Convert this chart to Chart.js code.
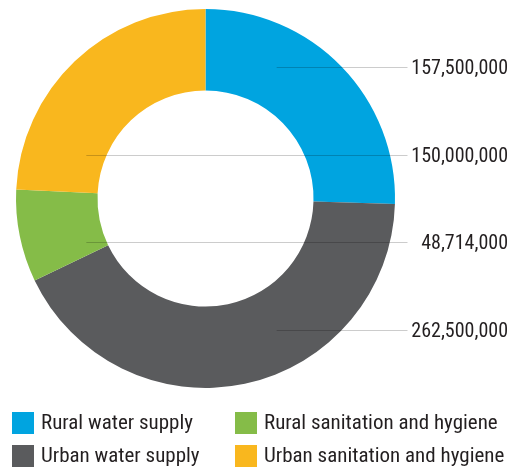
<!DOCTYPE html>
<html>
<head>
<meta charset="utf-8">
<script src="https://cdn.jsdelivr.net/npm/chart.js@4/dist/chart.umd.min.js"></script>
<style>
  html, body { margin: 0; padding: 0; background: #fff; }
  canvas { display: block; }
</style>
</head>
<body>
<canvas id="donut" width="511" height="470"></canvas>
<script>
const categories = [
  "Rural water supply",
  "Urban water supply",
  "Rural sanitation and hygiene",
  "Urban sanitation and hygiene"
];
const amounts = [157500000, 262500000, 48714000, 150000000];
const colors = ["#00a4e0", "#5a5b5d", "#85bc48", "#f9b71e"];
// order of the value labels on the right, top to bottom
const labelOrder = [0, 3, 2, 1];
// legend is laid out column by column, two rows
const legendRows = 2;

const FONT = '"Liberation Sans Narrow", "Arial Narrow", "Roboto Condensed", sans-serif';
const TEXT = "#231f20";

function fmt(n) {
  return n.toLocaleString("en-US");
}

const leaderLabels = {
  id: "leaderLabels",
  afterDatasetsDraw(chart) {
    const ctx = chart.ctx;
    const arcs = chart.getDatasetMeta(0).data;
    const first = arcs[0];
    const cx = first.x, cy = first.y;
    const outer = first.outerRadius, inner = first.innerRadius;
    const step = outer * 0.463;
    const lineEnd = chart.chartArea.right + 12.5;
    const textRight = chart.width - 3;

    ctx.save();
    labelOrder.forEach((idx, i) => {
      const arc = arcs[idx];
      const y = cy + (i - (labelOrder.length - 1) / 2) * step;
      const dy = y - cy;
      const rMid = (inner + outer) / 2;
      const dxMid = Math.sqrt(Math.max(rMid * rMid - dy * dy, 0));
      // pick the side where this y-level crosses the slice
      let ang = Math.atan2(dy, dxMid);
      const s = arc.startAngle, e = arc.endAngle;
      const norm = a => { while (a < s) a += Math.PI * 2; return a; };
      const side = norm(ang) <= e ? 1 : -1;
      const dxOuter = Math.sqrt(Math.max(outer * outer - dy * dy, 0));
      const startX = cx + side * (dxOuter - 0.8 * (outer - inner));

      ctx.strokeStyle = "rgba(0,0,0,0.2)";
      ctx.lineWidth = 1;
      ctx.beginPath();
      ctx.moveTo(startX, Math.round(y) + 0.5);
      ctx.lineTo(lineEnd, Math.round(y) + 0.5);
      ctx.stroke();

      ctx.fillStyle = TEXT;
      ctx.font = "20px " + FONT;
      ctx.textAlign = "right";
      ctx.textBaseline = "middle";
      ctx.fillText(fmt(amounts[idx]), textRight, y + 2);
    });
    ctx.restore();
  }
};

const columnLegend = {
  id: "columnLegend",
  afterDraw(chart) {
    const ctx = chart.ctx;
    const colX = [12, 235];
    const rowY = [423, 456];
    const box = 22;
    ctx.save();
    ctx.font = "21px " + FONT;
    ctx.textAlign = "left";
    ctx.textBaseline = "middle";
    categories.forEach((name, i) => {
      const col = Math.floor(i / legendRows);
      const row = i % legendRows;
      const x = colX[col], y = rowY[row];
      ctx.fillStyle = colors[i];
      ctx.fillRect(x, y - box / 2, box, box);
      ctx.fillStyle = TEXT;
      ctx.fillText(name, x + box + 7, y + 1);
    });
    ctx.restore();
  }
};

new Chart(document.getElementById("donut"), {
  type: "doughnut",
  data: {
    labels: categories,
    datasets: [{
      data: amounts,
      backgroundColor: colors,
      borderWidth: 0
    }]
  },
  options: {
    responsive: false,
    animation: false,
    cutout: "57%",
    layout: { padding: { left: 16, top: 9, right: 116, bottom: 82 } },
    plugins: {
      legend: { display: false },
      tooltip: { enabled: false }
    }
  },
  plugins: [leaderLabels, columnLegend]
});
</script>
</body>
</html>
